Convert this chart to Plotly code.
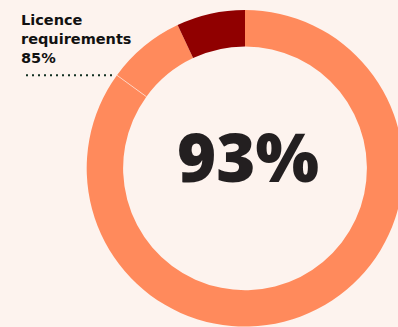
import math
import plotly.graph_objects as go

# Share of requirements met, split into segments
segments = ["Licence requirements", "Other requirements met", "Not met"]
values = [85, 8, 7]
colors = ["#FF8A5C", "#FF8A5C", "#900000"]
headline = "93%"
callout_lines = ["Licence", "requirements", "85%"]

W, H = 410, 327
BG = "#FDF3EE"
FONT = "Open Sans, Inter, sans-serif"
LABEL_FONT = "DejaVu Sans, sans-serif"

# Pie geometry (pixel frame)
cx, cy, R = 245.0, 168.3, 158.3
hole = 0.77
dom_x = [(cx - R) / W, (cx + R) / W]
dom_y = [1 - (cy + R) / H, 1 - (cy - R) / H]

fig = go.Figure(
    go.Pie(
        labels=segments,
        values=values,
        marker=dict(colors=colors, line=dict(width=0)),
        hole=hole,
        sort=False,
        direction="clockwise",
        rotation=0,
        textinfo="none",
        hoverinfo="label+value",
        showlegend=False,
        domain=dict(x=dom_x, y=dom_y),
    )
)

# Angle of the boundary after the first segment (clockwise from 12 o'clock)
frac = values[0] / sum(values)
theta = 2 * math.pi * frac


def to_paper(px, py):
    return px / W, 1 - py / H


def on_ring(r):
    return cx + r * math.sin(theta), cy - r * math.cos(theta)


# thin divider across the ring at the boundary
x0, y0 = to_paper(*on_ring(R * hole))
x1, y1 = to_paper(*on_ring(R))
fig.add_shape(type="line", xref="paper", yref="paper", x0=x0, y0=y0, x1=x1, y1=y1,
              line=dict(color="rgba(253,243,238,0.6)", width=1))

# dotted leader from the callout to the ring edge
ex, ey = on_ring(R)
lx0, ly0 = to_paper(26, ey)
lx1, ly1 = to_paper(ex - 2, ey)
fig.add_shape(type="line", xref="paper", yref="paper", x0=lx0, y0=ly0, x1=lx1, y1=ly1,
              line=dict(color="#123022", width=2, dash="2px,4px"))

# callout text
ax, ay = to_paper(19, 10)
fig.add_annotation(
    xref="paper", yref="paper", x=ax, y=ay, xanchor="left", yanchor="top",
    text="<br>".join(callout_lines), showarrow=False, align="left",
    font=dict(family=LABEL_FONT, size=14.5, color="#111111", weight=700),
)

hx, hy = to_paper(247.5, 156)
fig.add_annotation(
    xref="paper", yref="paper", x=hx, y=hy, xanchor="center", yanchor="middle",
    text=headline, showarrow=False,
    font=dict(family=FONT, size=67, color="#231F20", weight=800),
)

fig.update_layout(
    width=W, height=H,
    margin=dict(l=0, r=0, t=0, b=0),
    paper_bgcolor=BG, plot_bgcolor=BG,
)

fig.write_html(
    "out.html",
    post_script="document.documentElement.style.overflow='hidden';"
                "document.body.style.overflow='hidden';"
                "document.body.style.margin='0';"
                "document.body.style.background='" + BG + "';",
)
